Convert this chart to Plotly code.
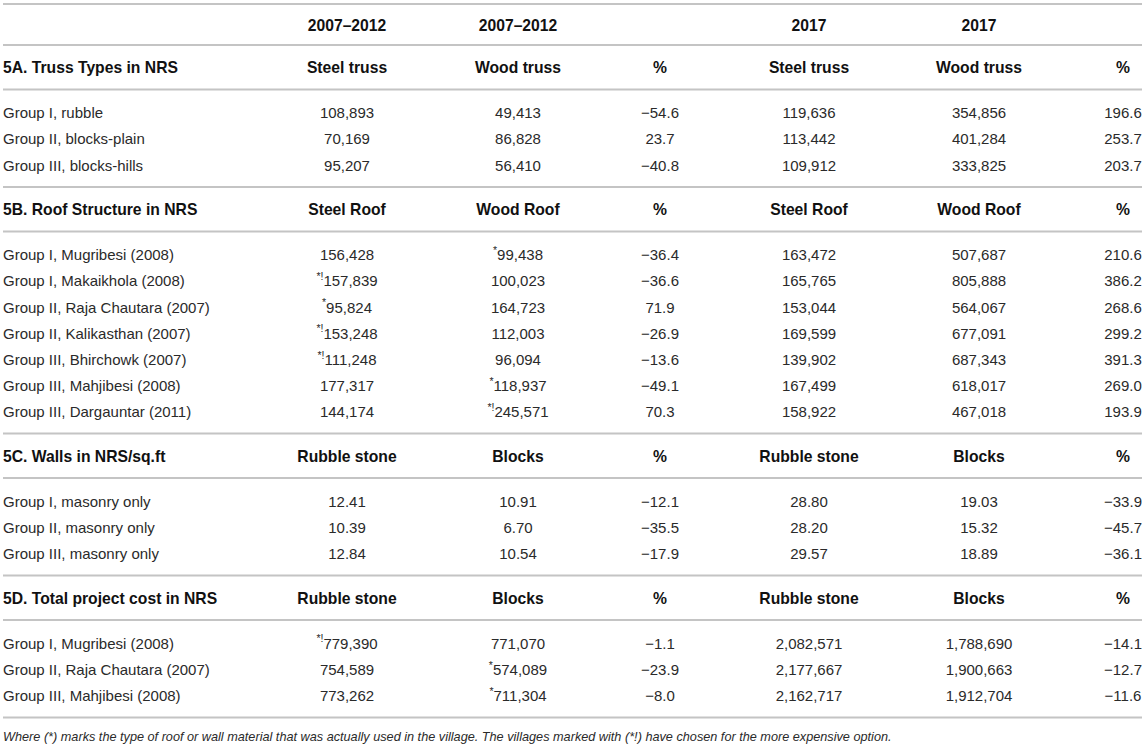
import plotly.graph_objects as go

# ---------------- data ----------------
period_headers = ["2007–2012", "2007–2012", "", "2017", "2017", ""]

A_title = "5A. Truss Types in NRS"
A_cols = ["Steel truss", "Wood truss", "%", "Steel truss", "Wood truss", "%"]
A_labels = ["Group I, rubble", "Group II, blocks-plain", "Group III, blocks-hills"]
A_steel_0712 = [108893, 70169, 95207]
A_wood_0712 = [49413, 86828, 56410]
A_pct_0712 = [-54.6, 23.7, -40.8]
A_steel_2017 = [119636, 113442, 109912]
A_wood_2017 = [354856, 401284, 333825]
A_pct_2017 = [196.6, 253.7, 203.7]

B_title = "5B. Roof Structure in NRS"
B_cols = ["Steel Roof", "Wood Roof", "%", "Steel Roof", "Wood Roof", "%"]
B_labels = ["Group I, Mugribesi (2008)", "Group I, Makaikhola (2008)",
            "Group II, Raja Chautara (2007)", "Group II, Kalikasthan (2007)",
            "Group III, Bhirchowk (2007)", "Group III, Mahjibesi (2008)",
            "Group III, Dargauntar (2011)"]
B_steel_0712 = [156428, 157839, 95824, 153248, 111248, 177317, 144174]
B_steel_mark = ["", "*!", "*", "*!", "*!", "", ""]
B_wood_0712 = [99438, 100023, 164723, 112003, 96094, 118937, 245571]
B_wood_mark = ["*", "", "", "", "", "*", "*!"]
B_pct_0712 = [-36.4, -36.6, 71.9, -26.9, -13.6, -49.1, 70.3]
B_steel_2017 = [163472, 165765, 153044, 169599, 139902, 167499, 158922]
B_wood_2017 = [507687, 805888, 564067, 677091, 687343, 618017, 467018]
B_pct_2017 = [210.6, 386.2, 268.6, 299.2, 391.3, 269.0, 193.9]

C_title = "5C. Walls in NRS/sq.ft"
C_cols = ["Rubble stone", "Blocks", "%", "Rubble stone", "Blocks", "%"]
C_labels = ["Group I, masonry only", "Group II, masonry only", "Group III, masonry only"]
C_rubble_0712 = [12.41, 10.39, 12.84]
C_blocks_0712 = [10.91, 6.70, 10.54]
C_pct_0712 = [-12.1, -35.5, -17.9]
C_rubble_2017 = [28.80, 28.20, 29.57]
C_blocks_2017 = [19.03, 15.32, 18.89]
C_pct_2017 = [-33.9, -45.7, -36.1]

D_title = "5D. Total project cost in NRS"
D_cols = ["Rubble stone", "Blocks", "%", "Rubble stone", "Blocks", "%"]
D_labels = ["Group I, Mugribesi (2008)", "Group II, Raja Chautara (2007)",
            "Group III, Mahjibesi (2008)"]
D_rubble_0712 = [779390, 754589, 773262]
D_rubble_mark = ["*!", "", ""]
D_blocks_0712 = [771070, 574089, 711304]
D_blocks_mark = ["", "*", "*"]
D_pct_0712 = [-1.1, -23.9, -8.0]
D_rubble_2017 = [2082571, 2177667, 2162717]
D_blocks_2017 = [1788690, 1900663, 1912704]
D_pct_2017 = [-14.1, -12.7, -11.6]

footnote = ("Where (*) marks the type of roof or wall material that was actually used in the "
            "village. The villages marked with (*!) have chosen for the more expensive option.")


# ---------------- formatting helpers ----------------
def fint(v, mark=""):
    s = f"{v:,}"
    return (f"<sup>{mark}</sup>" if mark else "") + s


def fdec(v, nd):
    return f"{v:.{nd}f}".replace("-", "−")


sections = [
    (A_title, A_cols, A_labels,
     [[fint(v) for v in A_steel_0712], [fint(v) for v in A_wood_0712],
      [fdec(v, 1) for v in A_pct_0712], [fint(v) for v in A_steel_2017],
      [fint(v) for v in A_wood_2017], [fdec(v, 1) for v in A_pct_2017]]),
    (B_title, B_cols, B_labels,
     [[fint(v, m) for v, m in zip(B_steel_0712, B_steel_mark)],
      [fint(v, m) for v, m in zip(B_wood_0712, B_wood_mark)],
      [fdec(v, 1) for v in B_pct_0712], [fint(v) for v in B_steel_2017],
      [fint(v) for v in B_wood_2017], [fdec(v, 1) for v in B_pct_2017]]),
    (C_title, C_cols, C_labels,
     [[fdec(v, 2) for v in C_rubble_0712], [fdec(v, 2) for v in C_blocks_0712],
      [fdec(v, 1) for v in C_pct_0712], [fdec(v, 2) for v in C_rubble_2017],
      [fdec(v, 2) for v in C_blocks_2017], [fdec(v, 1) for v in C_pct_2017]]),
    (D_title, D_cols, D_labels,
     [[fint(v, m) for v, m in zip(D_rubble_0712, D_rubble_mark)],
      [fint(v, m) for v, m in zip(D_blocks_0712, D_blocks_mark)],
      [fdec(v, 1) for v in D_pct_0712], [fint(v) for v in D_rubble_2017],
      [fint(v) for v in D_blocks_2017], [fdec(v, 1) for v in D_pct_2017]]),
]

# ---------------- layout geometry (pixel space) ----------------
W, H = 1145, 745
col_x = [347, 518, 660, 809, 979, 1123]
label_x = 3
line_x0, line_x1 = 3, 1142
TOP_LINE = 4
HEAD_GAP = 44.5      # line -> line around a bold header row
PAD_TOP = 23         # line -> first data row
PAD_BOT = 22         # last data row -> line
PITCH = 26.2         # data row pitch
TXT_DY = 2           # text vertical nudge

lab_y, lab_t, labh_y, labh_t = [], [], [], []
col_y = [[] for _ in col_x]
col_t = [[] for _ in col_x]
hcol_y = [[] for _ in col_x]
hcol_t = [[] for _ in col_x]
lines = [TOP_LINE]

y_line = TOP_LINE
yh = y_line + HEAD_GAP / 2 - 1
for j, t in enumerate(period_headers):
    if t:
        hcol_y[j].append(yh + TXT_DY)
        hcol_t[j].append(f"<b>{t}</b>")
y_line += HEAD_GAP - 3.5
lines.append(y_line)

for title, cols, labels, values in sections:
    yh = y_line + HEAD_GAP / 2
    labh_y.append(yh + TXT_DY)
    labh_t.append(f"<b>{title}</b>")
    for j, t in enumerate(cols):
        hcol_y[j].append(yh + TXT_DY)
        hcol_t[j].append(f"<b>{t}</b>")
    y_line += HEAD_GAP
    lines.append(y_line)
    y0 = y_line + PAD_TOP
    for i, lab in enumerate(labels):
        yr = y0 + i * PITCH
        lab_y.append(yr + TXT_DY)
        lab_t.append(lab)
        for j in range(len(col_x)):
            col_y[j].append(yr + TXT_DY)
            col_t[j].append(values[j][i])
    y_line = y0 + (len(labels) - 1) * PITCH + PAD_BOT
    lines.append(y_line)

foot_y = y_line + 20

FONT = "Liberation Sans, Arial, Helvetica, sans-serif"
TXT = "#2a2a2a"
HDR = "#111111"
FS = 15
FSB = 15.7


def text_trace(xs, ys, texts, pos, size, color):
    return go.Scatter(x=xs, y=ys, text=texts, mode="text", textposition=pos,
                      textfont=dict(family=FONT, size=size, color=color),
                      cliponaxis=False, hoverinfo="skip", showlegend=False)


fig = go.Figure()
fig.add_trace(text_trace([label_x] * len(lab_y), lab_y, lab_t, "middle right", FS, TXT))
fig.add_trace(text_trace([label_x] * len(labh_y), labh_y, labh_t, "middle right", FSB, HDR))
for j, cx in enumerate(col_x):
    fig.add_trace(text_trace([cx] * len(col_y[j]), col_y[j], col_t[j], "middle center", FS, TXT))
    fig.add_trace(text_trace([cx] * len(hcol_y[j]), hcol_y[j], hcol_t[j], "middle center", FSB, HDR))
fig.add_trace(text_trace([label_x], [foot_y], [f"<i>{footnote}</i>"], "middle right", 12.7, TXT))

shapes = [dict(type="line", xref="x", yref="y", x0=line_x0, x1=line_x1, y0=yl, y1=yl,
               line=dict(color="#c4c4c4", width=2)) for yl in lines]

fig.update_layout(
    width=W, height=H, margin=dict(l=0, r=0, t=0, b=0),
    paper_bgcolor="white", plot_bgcolor="white",
    xaxis=dict(range=[0, W], visible=False, fixedrange=True),
    yaxis=dict(range=[H, 0], visible=False, fixedrange=True),
    shapes=shapes,
)

fig.write_html("out.html",
               config={"displayModeBar": False, "staticPlot": True},
               post_script="document.body.style.margin='0';"
                           "document.body.style.overflow='hidden';")
